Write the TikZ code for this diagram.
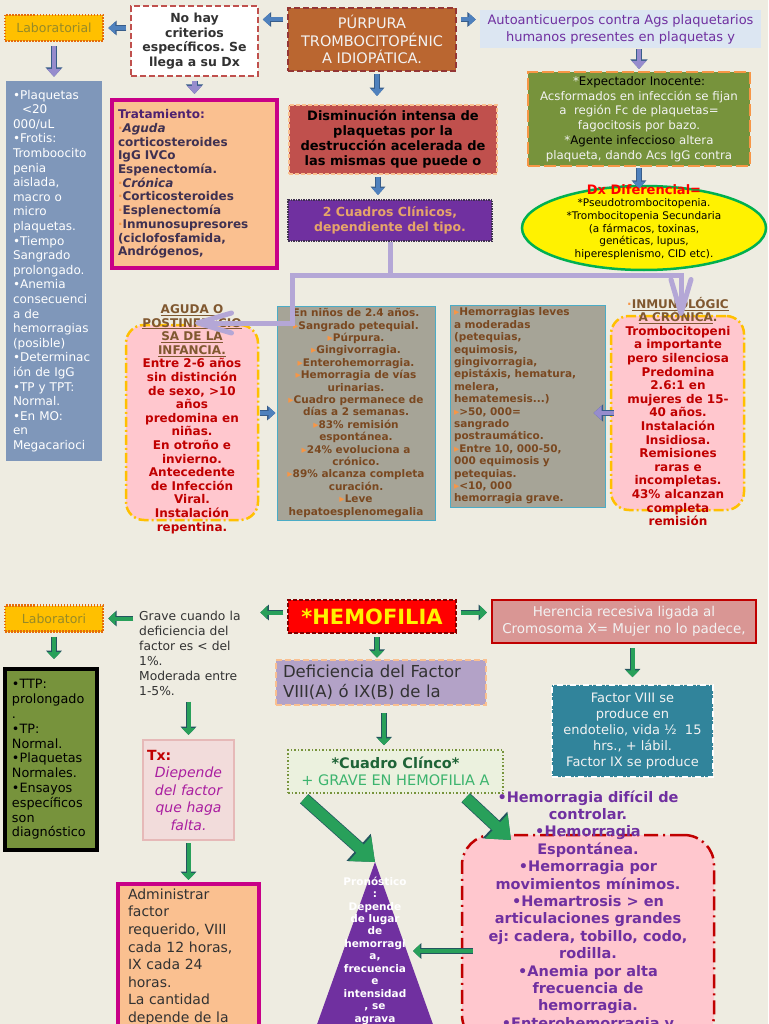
\documentclass[tikz,border=0pt]{standalone}
\usepackage{fontspec}
\setmainfont{DejaVu Sans}
\usepackage{tikz}
\usetikzlibrary{shapes.geometric, arrows, arrows.meta, positioning}
\frenchspacing

\definecolor{fondo}{RGB}{238,236,225}
\definecolor{amarillo}{RGB}{255,192,0}
\definecolor{naranja}{RGB}{228,108,10}
\definecolor{oliva}{RGB}{150,138,40}
\definecolor{azulflecha}{RGB}{79,129,189}
\definecolor{azuloscuro}{RGB}{56,93,138}
\definecolor{lavanda}{RGB}{150,140,205}
\definecolor{lila}{RGB}{180,167,214}
\definecolor{ladrillo}{RGB}{186,102,48}
\definecolor{marron}{RGB}{148,54,52}
\definecolor{rojizo}{RGB}{192,80,77}
\definecolor{celeste}{RGB}{220,230,242}
\definecolor{morado}{RGB}{112,48,160}
\definecolor{acero}{RGB}{127,151,186}
\definecolor{salmon}{RGB}{250,192,144}
\definecolor{magentaf}{RGB}{200,0,135}
\definecolor{tinta}{RGB}{63,49,81}
\definecolor{verdeoliva}{RGB}{119,147,60}
\definecolor{anaranjado}{RGB}{247,150,70}
\definecolor{verdeborde}{RGB}{0,176,80}
\definecolor{rosado}{RGB}{255,199,206}
\definecolor{cafe}{RGB}{128,88,48}
\definecolor{rojo}{RGB}{192,0,0}
\definecolor{grisfondo}{RGB}{166,164,151}
\definecolor{turquesa}{RGB}{75,172,198}
\definecolor{pardo}{RGB}{122,72,32}
\definecolor{grisosc}{RGB}{50,50,50}
\definecolor{blanquecino}{RGB}{242,242,242}
\definecolor{durazno}{RGB}{230,165,105}
\definecolor{rojooscuro}{RGB}{128,0,0}
\definecolor{rosaviejo}{RGB}{217,150,148}
\definecolor{petroleo}{RGB}{49,132,155}
\definecolor{lavandaclara}{RGB}{179,162,199}
\definecolor{verdeclaro}{RGB}{235,241,222}
\definecolor{verdetexto}{RGB}{30,100,55}
\definecolor{verdeluz}{RGB}{60,180,110}
\definecolor{rosapalido}{RGB}{242,220,219}
\definecolor{rosaborde}{RGB}{230,185,184}
\definecolor{magentatexto}{RGB}{170,30,160}
\definecolor{verdeflecha}{RGB}{40,160,90}
\definecolor{verdeosc}{RGB}{35,85,95}

\newcommand{\bala}{{\color{anaranjado}▸}}
\newcommand{\punto}{{\color{anaranjado}·}}
\newcommand{\encabezado}[1]{{\color{cafe}\underline{#1}}}

\tikzstyle{caja} = [rectangle, align=center, inner sep=2pt]
\tikzstyle{laboratorio} = [caja, fill=amarillo, draw=naranja, line width=2.5pt, dash pattern=on 1.5pt off 1.5pt, text=oliva, minimum width=98pt, minimum height=26pt, font=\fontsize{12.5}{15}\selectfont]
\tikzstyle{criterios} = [caja, fill=white, draw=rojizo, line width=1.5pt, dash pattern=on 6pt off 3pt, text=grisosc, minimum width=127pt, minimum height=70pt, font=\fontsize{12.5}{14.5}\selectfont\bfseries]
\tikzstyle{purpura} = [caja, fill=ladrillo, draw=marron, line width=2pt, dash pattern=on 6pt off 3pt, text=blanquecino, minimum width=168pt, minimum height=63pt, font=\fontsize{14.5}{17.5}\selectfont]
\tikzstyle{autoac} = [caja, fill=celeste, text=morado, minimum width=281pt, minimum height=38pt, font=\fontsize{13}{17}\selectfont]
\tikzstyle{plaquetas} = [caja, align=left, fill=acero, text=white, minimum width=96pt, minimum height=380pt, text width=82pt, font=\fontsize{12}{14.6}\selectfont]
\tikzstyle{tratamiento} = [caja, align=left, fill=salmon, draw=magentaf, line width=4pt, text=tinta, minimum width=165pt, minimum height=168pt, text width=153pt, font=\fontsize{12}{13.7}\selectfont\bfseries]
\tikzstyle{disminucion} = [caja, fill=rojizo, draw=salmon, line width=2pt, dash pattern=on 4pt off 2pt, text=black, minimum width=208pt, minimum height=69pt, font=\fontsize{13}{15}\selectfont\bfseries]
\tikzstyle{cuadros} = [caja, fill=morado, draw=tinta, line width=2pt, dash pattern=on 1.5pt off 1pt, text=durazno, minimum width=204pt, minimum height=41pt, font=\fontsize{12.5}{15}\selectfont\bfseries]
\tikzstyle{expectador} = [caja, fill=verdeoliva, draw=anaranjado, line width=2pt, dash pattern=on 12pt off 4pt, text=blanquecino, minimum width=222pt, minimum height=94pt, font=\fontsize{11.8}{14.8}\selectfont]
\tikzstyle{dxelipse} = [ellipse, fill=yellow, draw=verdeborde, line width=2.5pt, minimum width=244pt, minimum height=84pt]
\tikzstyle{dxtexto} = [align=center, text=black, font=\fontsize{10.5}{12.7}\selectfont]
\tikzstyle{rosa} = [rectangle, rounded corners=18pt, fill=rosado, draw=amarillo, line width=2.5pt, dash pattern=on 10pt off 3pt on 2pt off 3pt, minimum width=132pt, minimum height=195pt]
\tikzstyle{rosatexto} = [align=center, text=rojo, font=\fontsize{12}{13.6}\selectfont\bfseries]
\tikzstyle{gris} = [caja, fill=grisfondo, draw=turquesa, line width=1pt, inner ysep=1pt, text=pardo, font=\fontsize{10.5}{12.4}\selectfont\bfseries]
\tikzstyle{grave} = [align=left, text width=115pt, inner sep=2pt, text=grisosc, font=\fontsize{12.3}{15}\selectfont]
\tikzstyle{hemofilia} = [caja, fill=red, draw=rojooscuro, line width=1.5pt, dash pattern=on 4pt off 2pt, text=yellow, minimum width=168pt, minimum height=33pt, font=\fontsize{21}{24}\selectfont\bfseries]
\tikzstyle{herencia} = [caja, fill=rosaviejo, draw=rojo, line width=2pt, text=blanquecino, minimum width=264pt, minimum height=43pt, font=\fontsize{13.5}{16.5}\selectfont]
\tikzstyle{factor} = [caja, fill=petroleo, draw=white, line width=1.5pt, dash pattern=on 6pt off 3pt on 1pt off 3pt, text=blanquecino, minimum width=161pt, minimum height=92pt, font=\fontsize{13}{16}\selectfont]
\tikzstyle{deficiencia} = [caja, align=left, fill=lavandaclara, draw=salmon, line width=2.5pt, dash pattern=on 6pt off 3pt, text=grisosc, minimum width=210pt, minimum height=45pt, text width=196pt, font=\fontsize{16.5}{20}\selectfont]
\tikzstyle{clinico} = [caja, fill=verdeclaro, draw=verdeoliva, line width=1.5pt, dash pattern=on 1.5pt off 2pt, minimum width=215pt, minimum height=43pt, font=\fontsize{14.5}{17}\selectfont]
\tikzstyle{txbox} = [caja, fill=rosapalido, draw=rosaborde, line width=2pt, text=magentatexto, minimum width=91pt, minimum height=100pt, text width=83pt, font=\fontsize{14}{17.5}\selectfont\itshape]
\tikzstyle{administrar} = [caja, align=left, fill=salmon, draw=magentaf, line width=4pt, text=grisosc, minimum width=141pt, minimum height=146pt, text width=121pt, font=\fontsize{14}{17.6}\selectfont]
\tikzstyle{ttp} = [caja, align=left, fill=verdeoliva, draw=black, line width=4pt, text=black, minimum width=92pt, minimum height=181pt, text width=78pt, font=\fontsize{12.8}{14.8}\selectfont]
\tikzstyle{pronostico} = [align=center, text=white, font=\fontsize{10.5}{12.45}\selectfont\bfseries]
\tikzstyle{hemorragias} = [rectangle, rounded corners=30pt, fill=rosado, draw=rojo, line width=2.5pt, dash pattern=on 14pt off 5pt on 2pt off 5pt, minimum width=252pt, minimum height=210pt]
\tikzstyle{hemotexto} = [align=center, text=morado, font=\fontsize{14.5}{17.4}\selectfont\bfseries]
\tikzstyle{flechaazul} = [line width=4pt, draw=azulflecha, shorten >=4pt, shorten <=4pt, -{Triangle[length=7pt,width=12pt]}, preaction={draw=azuloscuro, line width=5.4pt, -{Triangle[length=8.4pt,width=14.4pt]}}]
\tikzstyle{flechalila} = [line width=4.5pt, draw=lavanda, shorten >=4pt, shorten <=4pt, -{Triangle[length=8pt,width=14pt]}, preaction={draw=azuloscuro, line width=6pt, -{Triangle[length=9.5pt,width=16.5pt]}}]
\tikzstyle{flechaverde} = [line width=4pt, draw=verdeflecha, shorten >=4pt, shorten <=4pt, -{Triangle[length=7pt,width=13pt]}, preaction={draw=verdeosc, line width=5.4pt, -{Triangle[length=8.4pt,width=15.4pt]}}]
\tikzstyle{flechagrande} = [line width=11pt, draw=verdeflecha, -{Triangle[length=20pt,width=32pt]}, preaction={draw=verdeosc, line width=12.5pt, -{Triangle[length=22pt,width=35pt]}}]
\tikzstyle{lilalinea} = [draw=lila, line width=5pt]
\tikzstyle{lilapunta} = [-{Straight Barb[length=34pt,width=20pt,round]}]

\begin{document}
\begin{tikzpicture}[x=1pt, y=-1pt]
\useasboundingbox (0,0) rectangle (768,1024);
\fill [fondo] (0,0) rectangle (768,1024);
\clip (0,0) rectangle (768,1024);

% purpura trombocitopenica
\node (lab) [laboratorio] at (54,28) {Laboratorial};
\node (criterios) [criterios] at (194.5,41) {No hay\\criterios\\específicos. Se\\llega a su Dx};
\node (pti) [purpura] at (372,39.5) {PÚRPURA\\TROMBOCITOPÉNIC\\A IDIOPÁTICA.};
\node (autoac) [autoac] at (620.5,29) {Autoanticuerpos contra Ags plaquetarios\\humanos presentes en plaquetas y};
\node (plaquetas) [plaquetas] at (54,271) {•Plaquetas\\\hspace*{9pt}<20\\000/uL\\•Frotis:\\Tromboocito\\penia\\aislada,\\macro o\\micro\\plaquetas.\\•Tiempo\\Sangrado\\prolongado.\\•Anemia\\consecuenci\\a de\\hemorragias\\(posible)\\•Determinac\\ión de IgG\\•TP y TPT:\\Normal.\\•En MO:\\en\\Megacarioci};
\node (tratamiento) [tratamiento] at (194.5,184) {{\color{morado!70!black}Tratamiento:}\\\punto\textit{Aguda}\\corticosteroides\\IgG IVCo\\Espenectomía.\\\punto\textit{Crónica}\\\punto Corticosteroides\\\punto Esplenectomía\\\punto Inmunosupresores\\(ciclofosfamida,\\Andrógenos,};
\node (disminucion) [disminucion] at (393,139.5) {Disminución intensa de\\plaquetas por la\\destrucción acelerada de\\las mismas que puede o};
\node (cuadros) [cuadros] at (390,220.5) {2 Cuadros Clínicos,\\dependiente del tipo.};
\node (expectador) [expectador] at (639,119) {*{\color{black}Expectador Inocente:}\\Acsformados en infección se fijan\\a \ región Fc de plaquetas=\\fagocitosis por bazo.\\*{\color{black}Agente infeccioso} altera\\plaqueta, dando Acs IgG contra};
\node (dx) [dxelipse] at (644,228) {};

\node (aguda) [rosa] at (192,422.5) {};
\node (clinaguda) [gris, minimum width=158pt, minimum height=214pt] at (356,413) {En niños de 2.4 años.\\\bala Sangrado petequial.\\\bala Púrpura.\\\bala Gingivorragia.\\\bala Enterohemorragia.\\\bala Hemorragia de vías\\urinarias.\\\bala Cuadro permanece de\\días a 2 semanas.\\\bala 83\% remisión\\espontánea.\\\bala 24\% evoluciona a\\crónico.\\\bala 89\% alcanza completa\\curación.\\\bala Leve\\hepatoesplenomegalia};
\node (clincronica) [gris, align=left, text width=147pt, minimum width=155pt, minimum height=202pt] at (527.5,406) {\bala Hemorragias leves\\a moderadas\\(petequias,\\equimosis,\\gingivorragia,\\epistáxis, hematura,\\melera,\\hematemesis...)\\\bala >50, 000=\\sangrado\\postraumático.\\\bala Entre 10, 000-50,\\000 equimosis y\\petequias.\\\bala <10, 000\\hemorragia grave.};
\node (cronica) [rosa, minimum width=133pt, minimum height=194pt] at (677.5,413) {};

\draw [flechaazul] (criterios.west |- lab.east) -- (lab.east);
\draw [flechaazul] ([yshift=20pt]pti.west) -- ([yshift=20pt]pti.west -| criterios.east);
\draw [flechaazul] ([yshift=20pt]pti.east) -- ([yshift=20pt]pti.east -| autoac.west);
\draw [flechalila] (lab) -- (plaquetas);
\draw [flechalila] (criterios) -- (tratamiento);
\draw [flechaazul, shorten <=2pt, shorten >=8pt] ([xshift=5pt]pti.south) -- ([xshift=5pt]pti.south |- disminucion.north);
\draw [flechaazul, shorten <=2pt] ([xshift=-15pt]disminucion.south) -- ([xshift=-12pt]cuadros.north);
\draw [flechalila, shorten <=1pt, shorten >=2pt] (autoac.south -| expectador) -- (expectador.north);
\draw [flechaazul, shorten <=1pt, shorten >=-4pt] (expectador.south) -- (expectador.south |- dx.north);
\draw [flechaazul, shorten <=1pt, shorten >=1pt] (aguda.east |- clinaguda) -- (clinaguda.west);
\draw [flechalila, shorten <=-4pt, shorten >=-12pt] (cronica.west) -- (cronica.west -| clincronica.east);

\node (dxtxt) [dxtexto] at (644,222) {{\color{red}\bfseries\fontsize{13}{13}\selectfont Dx Diferencial=}\\*Pseudotrombocitopenia.\\*Trombocitopenia Secundaria\\(a fármacos, toxinas,\\genéticas, lupus,\\hiperesplenismo, CID etc).};
\node (agudatxt) [rosatexto] at (192,419) {\encabezado{AGUDA O}\\\encabezado{POSTINFECCIO}\\\encabezado{SA DE LA}\\\encabezado{INFANCIA.}\\Entre 2-6 años\\sin distinción\\de sexo, >10\\años\\predomina en\\niñas.\\En otroño e\\invierno.\\Antecedente\\de Infección\\Viral.\\Instalación\\repentina.};
\node (cronicatxt) [rosatexto] at (678,411.5) {\punto\encabezado{INMUNOLÓGIC}\\\encabezado{A CRÓNICA}{\color{cafe}.}\\Trombocitopeni\\a importante\\pero silenciosa\\Predomina\\2.6:1 en\\mujeres de 15-\\40 años.\\Instalación\\Insidiosa.\\Remisiones\\raras e\\incompletas.\\43\% alcanzan\\completa\\remisión};

% los dos cuadros clinicos
\coordinate (rama) at (390,275);
\coordinate (codo) at (292,323);
\coordinate (agudapunta) at (195,323);
\coordinate (cronicapunta) at (681,316);
\draw [lilalinea] (cuadros.south) -- (rama);
\draw [lilalinea, lilapunta] (rama) -| (codo) -- (agudapunta);
\draw [lilalinea, lilapunta] (rama) -| (cronicapunta);

% hemofilia
\node (lab2) [laboratorio] at (54,618.5) {Laboratori};
\node (grave) [grave, anchor=north west] at (137,609) {Grave cuando la\\deficiencia del\\factor es < del\\1\%.\\Moderada entre\\1-5\%.};
\node (hemofilia) [hemofilia] at (372,616.5) {*HEMOFILIA};
\node (herencia) [herencia] at (624,621.5) {Herencia recesiva ligada al\\Cromosoma X= Mujer no lo padece,};
\node (factor) [factor] at (632.5,731) {Factor VIII se\\produce en\\endotelio, vida ½ \ 15\\hrs., + lábil.\\Factor IX se produce};
\node (deficiencia) [deficiencia] at (381,682.5) {Deficiencia del Factor\\VIII(A) ó IX(B) de la};
\node (clinico) [clinico] at (395.5,771.5) {{\bfseries\color{verdetexto}*Cuadro Clínco*}\\{\color{verdeluz}+ GRAVE EN HEMOFILIA A}};
\node (tx) [txbox] at (188.5,790) {{\upshape\bfseries\color{rojo}Tx:}\hfill\mbox{}\\Diepende\\del factor\\que haga\\falta.};
\node (administrar) [administrar, anchor=north] at (188.5,882) {Administrar\\factor\\requerido, VIII\\cada 12 horas,\\IX cada 24\\horas.\\La cantidad\\depende de la};
\node (ttp) [ttp] at (51,759.5) {•TTP:\\prolongado\\.\\•TP:\\Normal.\\•Plaquetas\\Normales.\\•Ensayos\\específicos\\son\\diagnóstico};
\node (hemorragias) [hemorragias] at (588,940) {};
\coordinate (apice) at (375,862);
\coordinate (entrada) at (511,840);
\coordinate (pronborde) at (413,951);
\fill [morado] (apice) -- (290,1100) -- (460,1100) -- cycle;

\draw [flechaverde] ([yshift=4pt]hemofilia.west) -- ([yshift=4pt]hemofilia.west -| grave.east);
\draw [flechaverde] (grave.west |- lab2) -- (lab2.east);
\draw [flechaverde, shorten >=8pt] (lab2.south) -- (lab2.south |- ttp.north);
\draw [flechaverde, shorten <=3pt, shorten >=1pt] ([xshift=5pt]hemofilia.south) -- ([xshift=5pt]hemofilia.south |- deficiencia.north);
\draw [flechaverde] ([yshift=4pt]hemofilia.east) -- ([yshift=4pt]hemofilia.east -| herencia.west);
\draw [flechaverde, shorten >=7pt] (herencia.south -| factor) -- (factor.north);
\draw [flechaverde, shorten <=7pt] ([xshift=3pt]deficiencia.south) -- ([xshift=3pt]deficiencia.south |- clinico.north);
\draw [flechaverde] (grave.south -| tx) -- (tx.north);
\draw [flechaverde, shorten <=2pt, shorten >=2pt] (tx) -- (administrar);
\draw [flechaverde, shorten <=-12pt, shorten >=0pt] (hemorragias.west |- pronborde) -- (pronborde);
\draw [flechagrande] ([shift={(17pt,-5pt)}]clinico.south west) -- (apice);
\draw [flechagrande] ([shift={(-38pt,-4pt)}]clinico.south east) -- (entrada);

\node (pronosticotxt) [pronostico] at (375,950.5) {Pronóstico\\:\\Depende\\de lugar\\de\\hemorragi\\a,\\frecuencia\\e\\intensidad\\, se\\agrava};
\node (hemorragiastxt) [hemotexto, anchor=north] at (588,787) {•Hemorragia difícil de\\controlar.\\•Hemorragia\\Espontánea.\\•Hemorragia por\\movimientos mínimos.\\•Hemartrosis > en\\articulaciones grandes\\ej: cadera, tobillo, codo,\\rodilla.\\•Anemia por alta\\frecuencia de\\hemorragia.\\•Enterohemorragia y};
\end{tikzpicture}
\end{document}
